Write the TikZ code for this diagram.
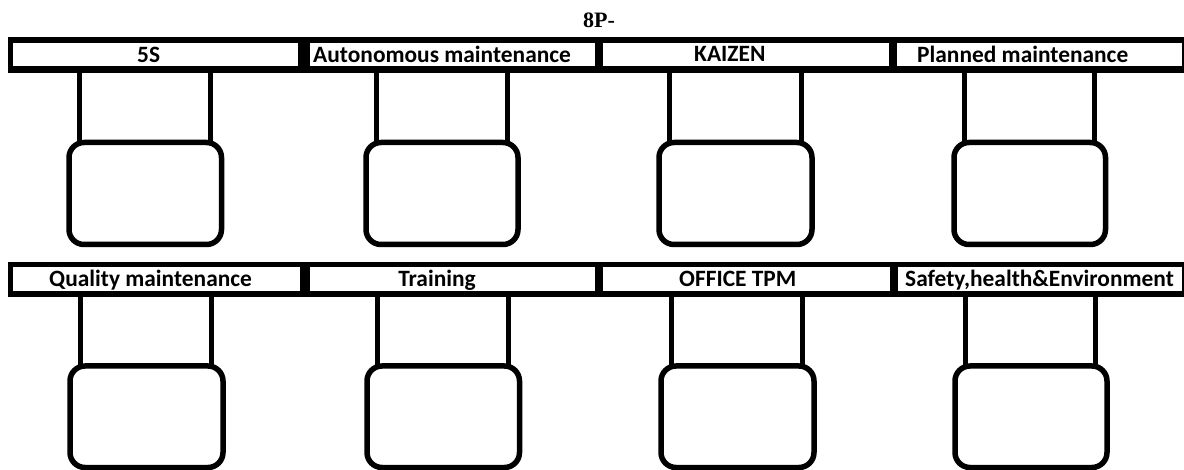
\documentclass[tikz,border=0pt]{standalone}
\usepackage{fontspec}
\setmainfont{Carlito}
\newfontfamily\titlefont{Liberation Serif}
\begin{document}
\begin{tikzpicture}[x=1pt,y=-1pt,
  barblack/.style={fill=black},
  barcell/.style={fill=white},
  legline/.style={line width=5pt},
  potbox/.style={line width=5.5pt,rounded corners=15pt},
  lbl/.style={anchor=base west,inner sep=0pt,font=\bfseries\fontsize{23.4pt}{26pt}\selectfont},
  ttl/.style={anchor=base west,inner sep=0pt,font=\titlefont\bfseries\fontsize{22pt}{24pt}\selectfont}]
\useasboundingbox (0,0) rectangle (1184,470);
\fill[white] (0,0) rectangle (1184,470);
% title
\node[ttl] (title) at (583,28) {8P-};
% top bar
\fill[barblack] (8,37) rectangle (1190,73);
\foreach \a/\b in {13/298,310/595,603/889,897/1182}{
  \fill[barcell] (\a,43) rectangle (\b,66.5);
}
% bottom bar
\fill[barblack] (8,262) rectangle (1190,297);
\foreach \a/\b in {13/300,310/595,603/890,898/1182}{
  \fill[barcell] (\a,267) rectangle (\b,291.5);
}
% top row columns
\foreach \L/\R in {79.5/210.5,376.5/507,669.5/801,964.5/1094.5}{
  \draw[legline] (\L,73) -- (\L,143);
  \draw[legline] (\R,73) -- (\R,143);
  \draw[potbox] (\L-10.5,142.5) rectangle (\R+11,244.5);
}
% bottom row columns
\foreach \L/\R in {80.5/211.5,377.5/508,671.5/802.5,965.5/1095.5}{
  \draw[legline] (\L,297) -- (\L,366);
  \draw[legline] (\R,297) -- (\R,366);
  \draw[potbox] (\L-10.5,366) rectangle (\R+11.5,467.5);
}
% labels
\node[lbl] (l5s) at (137,63) {5S};
\node[lbl] (lauto) at (313,63) {Autonomous maintenance};
\node[lbl] (lkai) at (694,62) {KAIZEN};
\node[lbl] (lplan) at (917,63) {Planned maintenance};
\node[lbl] (lqual) at (49,287) {Quality maintenance};
\node[lbl,anchor=base] (ltrain) at (437,287) {Training};
\node[lbl] (loff) at (679,287) {OFFICE TPM};
\node[lbl] (lsafe) at (905,287) {Safety,health\&Environment};
\end{tikzpicture}
\end{document}
